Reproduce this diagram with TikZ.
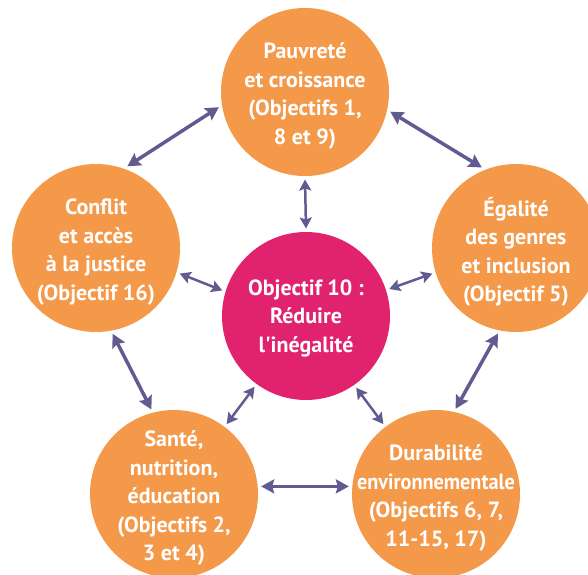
\documentclass[tikz,border=0pt]{standalone}
\usepackage{fontspec}
\setmainfont{PT Sans}
\usetikzlibrary{arrows.meta}
\definecolor{orng}{HTML}{F4984A}
\definecolor{magn}{HTML}{E0226F}
\definecolor{arr}{HTML}{625B92}
\tikzset{
  bubble/.style={circle, fill=orng, minimum size=168pt, inner sep=0pt, outer sep=3.5pt},
  hub/.style={bubble, fill=magn},
  caption/.style={text=white, font=\bfseries\fontsize{22}{28.5}\selectfont, align=center, inner sep=0pt},
  link/.style={draw=arr, line width=3.5pt,
    {Stealth[length=13pt,width=14pt,inset=2pt]}-{Stealth[length=13pt,width=14pt,inset=2pt]}},
  shortlink/.style={draw=arr, line width=2.5pt,
    {Stealth[length=11pt,width=12pt,inset=2pt]}-{Stealth[length=11pt,width=12pt,inset=2pt]}}
}
\begin{document}
\begin{tikzpicture}[x=1pt,y=-1pt]
\path[use as bounding box, clip] (0,0) rectangle (588,574);
\node[bubble] (top) at (305,92) {};
\node[bubble] (left) at (96,248) {};
\node[bubble] (right) at (516,248) {};
\node[hub] (hub) at (306,316) {};
\node[bubble] (bl) at (174,494) {};
\node[bubble] (br) at (436,494) {};
\node[caption] (ttop) at ([yshift=-4pt]top.center) {Pauvreté\\et croissance\\(Objectifs 1,\\8 et 9)};
\node[caption] (tleft) at ([yshift=-4pt]left.center) {Conflit\\et accès\\à la justice\\(Objectif 16)};
\node[caption] (tright) at ([yshift=-4pt]right.center) {Égalité\\des genres\\et inclusion\\(Objectif 5)};
\node[caption] (thub) at ([yshift=-2pt]hub.center) {Objectif 10 :\\Réduire\\l\textquotesingle inégalité};
\node[caption] (tbl) at ([yshift=-4pt]bl.center) {Santé,\\nutrition,\\éducation\\(Objectifs 2,\\3 et 4)};
\node[caption] (tbr) at ([yshift=-4pt]br.center) {Durabilité\\\scalebox{0.92}[1]{environnementale}\\(Objectifs 6, 7,\\11-15, 17)};
\draw[link] (top.190) -- (left.69);
\draw[link] (top.-13) -- (right.113);
\draw[link] (left.-79) -- (bl.105);
\draw[link] (right.-102) -- (br.77);
\draw[link] (bl.5) -- (br.175);
\draw[shortlink] (top.-90) -- (hub.90);
\draw[shortlink] (left.-17) -- (hub.163);
\draw[shortlink] (right.197) -- (hub.18);
\draw[shortlink] (hub.234) -- (bl.53);
\draw[shortlink] (hub.-55) -- (br.127);
\end{tikzpicture}
\end{document}
